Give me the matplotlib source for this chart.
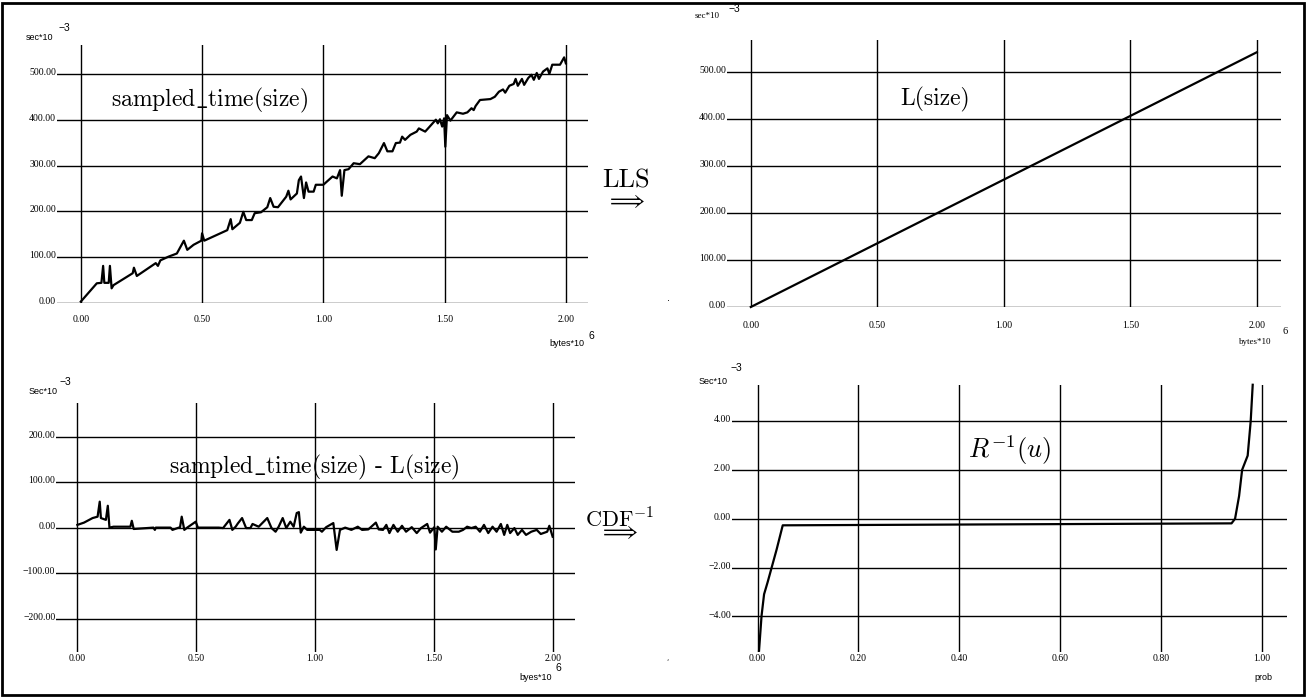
import numpy as np
import matplotlib
matplotlib.use('Agg')
import matplotlib.pyplot as plt
from matplotlib.patches import Rectangle

plt.rcParams['mathtext.fontset'] = 'cm'

# dados (tamanho em bytes*10^6, tempo em sec*10^-3)
size_sampled = [0.0, 0.066, 0.085, 0.092, 0.097, 0.115, 0.12, 0.127, 0.135, 0.214, 0.219, 0.231,
                0.309, 0.318, 0.328, 0.361, 0.396, 0.425, 0.439, 0.465, 0.497, 0.5, 0.509, 0.604,
                0.618, 0.625, 0.656, 0.67, 0.682, 0.705, 0.717, 0.743, 0.769, 0.781, 0.795, 0.813,
                0.847, 0.856, 0.865, 0.891, 0.899, 0.908, 0.92, 0.929, 0.939, 0.96, 0.969, 1.0,
                1.038, 1.056, 1.069, 1.076, 1.087, 1.104, 1.125, 1.151, 1.186, 1.212, 1.229, 1.25,
                1.264, 1.285, 1.299, 1.316, 1.325, 1.337, 1.359, 1.385, 1.394, 1.42, 1.437, 1.464,
                1.472, 1.481, 1.49, 1.498, 1.503, 1.51, 1.524, 1.55, 1.576, 1.594, 1.611, 1.62,
                1.628, 1.646, 1.689, 1.707, 1.724, 1.741, 1.75, 1.767, 1.785, 1.793, 1.802, 1.819,
                1.828, 1.845, 1.858, 1.868, 1.88, 1.889, 1.906, 1.924, 1.932, 1.944, 1.976, 1.993, 2.0]
time_sampled = [3, 43, 44, 81, 44, 44, 81, 32, 39, 65, 77, 59,
                87, 81, 93, 101, 108, 136, 116, 127, 136, 152, 136, 159,
                183, 161, 175, 199, 181, 181, 196, 198, 209, 229, 210, 209,
                232, 245, 226, 239, 268, 276, 229, 263, 243, 243, 258, 258,
                276, 272, 290, 234, 290, 292, 305, 303, 320, 316, 327, 349,
                331, 331, 349, 350, 363, 356, 367, 374, 381, 374, 384, 400,
                392, 401, 385, 403, 341, 410, 398, 416, 413, 416, 425, 421,
                430, 443, 445, 450, 461, 466, 459, 474, 478, 489, 474, 489,
                476, 491, 498, 487, 502, 489, 505, 512, 500, 520, 520, 536, 523]

size_fit = [0.0, 2.0]
time_fit = [0.0, 541.0]

size_resid = [0.0, 0.028, 0.064, 0.085, 0.094, 0.099, 0.12, 0.128, 0.135, 0.152, 0.223, 0.229,
              0.237, 0.32, 0.326, 0.33, 0.392, 0.4, 0.432, 0.439, 0.45, 0.462, 0.498, 0.507,
              0.595, 0.613, 0.64, 0.652, 0.666, 0.675, 0.693, 0.71, 0.728, 0.737, 0.763, 0.799,
              0.817, 0.834, 0.847, 0.864, 0.879, 0.896, 0.91, 0.923, 0.932, 0.94, 0.953, 0.967,
              0.994, 1.02, 1.029, 1.047, 1.077, 1.091, 1.105, 1.127, 1.153, 1.18, 1.198, 1.224,
              1.256, 1.268, 1.286, 1.3, 1.313, 1.33, 1.348, 1.366, 1.383, 1.407, 1.428, 1.446,
              1.472, 1.484, 1.502, 1.508, 1.516, 1.534, 1.552, 1.578, 1.605, 1.623, 1.64, 1.658,
              1.676, 1.694, 1.711, 1.729, 1.747, 1.764, 1.782, 1.796, 1.809, 1.821, 1.839, 1.853,
              1.871, 1.888, 1.91, 1.933, 1.95, 1.977, 1.986, 2.0]
time_resid = [6, 11, 21, 24, 57, 21, 17, 48, 0, 2, 2, 15,
              -3, 0, -5, 0, 0, -5, 1, 24, -5, 0, 13, 0,
              0, -1, 17, -5, 2, 9, 21, -1, -1, 8, 2, 21,
              -1, -9, 2, 21, -1, 13, 2, 32, 34, -11, 2, -5,
              -5, -5, -9, 1, 10, -49, -5, 0, -5, 2, -5, -4,
              11, -4, -5, 6, -12, 6, -9, 4, -9, 1, -12, -1,
              8, -11, 1, -48, 2, -9, 2, -9, -9, -5, 2, -1,
              2, -9, 6, -12, 2, -9, 8, -16, 6, -12, -1, -16,
              -5, -16, -9, -5, -14, -9, 4, -20]

prob = [0.003, 0.008, 0.013, 0.02, 0.028, 0.038, 0.05, 0.94, 0.947, 0.955, 0.961, 0.972, 0.978, 0.982]
quantile = [-5.4, -3.97, -3.09, -2.6, -2.0, -1.25, -0.27, -0.19, 0.0, 0.93, 2.0, 2.58, 3.99, 5.48]

bytes_ticks = [0.0, 0.5, 1.0, 1.5, 2.0]
time_ticks_top = [0, 100, 200, 300, 400, 500]
time_ticks_resid = [-200, -100, 0, 100, 200]
prob_ticks = [0.0, 0.2, 0.4, 0.6, 0.8, 1.0]
quant_ticks = [-4, -2, 0, 2, 4]

W, H = 1306, 698
fig = plt.figure(figsize=(W / 100, H / 100), dpi=100)


def box(l, t, r, b):
    return [l / W, 1 - b / H, (r - l) / W, (b - t) / H]


def ftext(x, y, s, **kw):
    fig.text(x / W, 1 - y / H, s, **kw)


def fmt(v):
    return f'{v:.2f}'.replace('-', '\u2212')


def painel(rect, xlim, ylim, xticks, yticks, x_off):
    ax = fig.add_axes(box(*rect))
    ax.set_xlim(xlim)
    ax.set_ylim(ylim)
    ax.axis('off')
    for v in yticks:
        ax.axhline(v, color='black', lw=1.0)
        ax.annotate(fmt(v), xy=(0, v), xycoords=('axes fraction', 'data'), xytext=(-0.5, 1),
                    textcoords='offset points', ha='right', va='center',
                    fontsize=7, family='Liberation Serif')
    for v in xticks:
        ax.axvline(v, color='black', lw=1.0)
        ax.annotate(fmt(v), xy=(v, 0), xycoords=('data', 'axes fraction'), xytext=(0, -x_off),
                    textcoords='offset points', ha='center', va='center',
                    fontsize=7, family='Liberation Serif')
    return ax


# painel superior esquerdo: tempo medido
ax1 = painel((56.8, 45, 588.4, 303), (-0.099, 2.093), (0, 563), bytes_ticks, time_ticks_top, 12.2)
ax1.plot(size_sampled, time_sampled, color='black', lw=1.6, clip_on=False)

# painel superior direito: ajuste LLS
ax2 = painel((726.6, 40, 1280.6, 307), (-0.0957, 2.094), (0, 567), bytes_ticks, time_ticks_top, 13)
ax2.plot(size_fit, time_fit, color='black', lw=1.6, clip_on=False)

# painel inferior esquerdo: residuos
ax3 = painel((56, 403.3, 575, 651.7), (-0.090, 2.094), (-272.5, 273), bytes_ticks, time_ticks_resid, 4.7)
ax3.plot(size_resid, time_resid, color='black', lw=1.6)

# painel inferior direito: inversa da CDF
ax4 = painel((731.6, 385, 1286.8, 651.7), (-0.0514, 1.0496), (-5.44, 5.47), prob_ticks, quant_ticks, 4.7)
ax4.plot(prob, quantile, color='black', lw=1.6, clip_on=False)

# rotulos dos eixos
sans = 'Liberation Sans'
serif = 'Liberation Serif'
ftext(39, 37, 'sec*10', fontsize=6.5, family=sans, ha='center', va='center')
ftext(64, 28, '\u22123', fontsize=7.5, family=sans, ha='center', va='center')
ftext(567, 343, 'bytes*10', fontsize=6.5, family=sans, ha='center', va='center')
ftext(591, 336, '6', fontsize=7.5, family=sans, ha='center', va='center')

ftext(707, 16, 'sec*10', fontsize=6.5, family=serif, ha='center', va='center')
ftext(734, 9, '\u22123', fontsize=7.5, family=sans, ha='center', va='center')
ftext(1255, 342, 'bytes*10', fontsize=6.5, family=serif, ha='center', va='center')
ftext(1285, 332, '6', fontsize=7.5, family=serif, ha='center', va='center')

ftext(43, 392, 'Sec*10', fontsize=6.5, family=sans, ha='center', va='center')
ftext(65, 382, '\u22123', fontsize=7.5, family=sans, ha='center', va='center')
ftext(536, 678, 'byes*10', fontsize=6.5, family=sans, ha='center', va='center')
ftext(558, 668, '6', fontsize=7.5, family=sans, ha='center', va='center')

ftext(713, 382, 'Sec*10', fontsize=6.5, family=sans, ha='center', va='center')
ftext(736, 368, '\u22123', fontsize=7.5, family=sans, ha='center', va='center')
ftext(1263, 677, 'prob', fontsize=6.5, family=sans, ha='center', va='center')

# titulos e setas
ftext(210, 100, r'sampled$\_$time(size)', fontsize=17, family='cmr10', ha='center', va='center')
ftext(935, 99, 'L(size)', fontsize=17, family='cmr10', ha='center', va='center')
ftext(314, 467, r'sampled$\_$time(size) - L(size)', fontsize=17, family='cmr10', ha='center', va='center')
ftext(1010, 450, r'$R^{-1}(u)$', fontsize=19, ha='center', va='center')

ftext(626, 188, 'LLS', fontsize=19, family='cmr10', ha='center', va='baseline')
ftext(626, 201, r'$\Longrightarrow$', fontsize=16, ha='center', va='center')
ftext(585, 528, r'CDF$^{-1}$', fontsize=16, family='cmr10', ha='left', va='baseline')
ftext(619, 532, r'$\Longrightarrow$', fontsize=16, ha='center', va='center')
ftext(668, 298, '.', fontsize=7, ha='center', va='center')
ftext(668, 658, ',', fontsize=5, ha='center', va='center')

# moldura
fig.patches.append(Rectangle((2 / W, 3 / H), 1 - 4 / W, 1 - 6 / H, transform=fig.transFigure,
                             fill=False, edgecolor='black', lw=2.0))

fig.savefig('out.png', dpi=100)
